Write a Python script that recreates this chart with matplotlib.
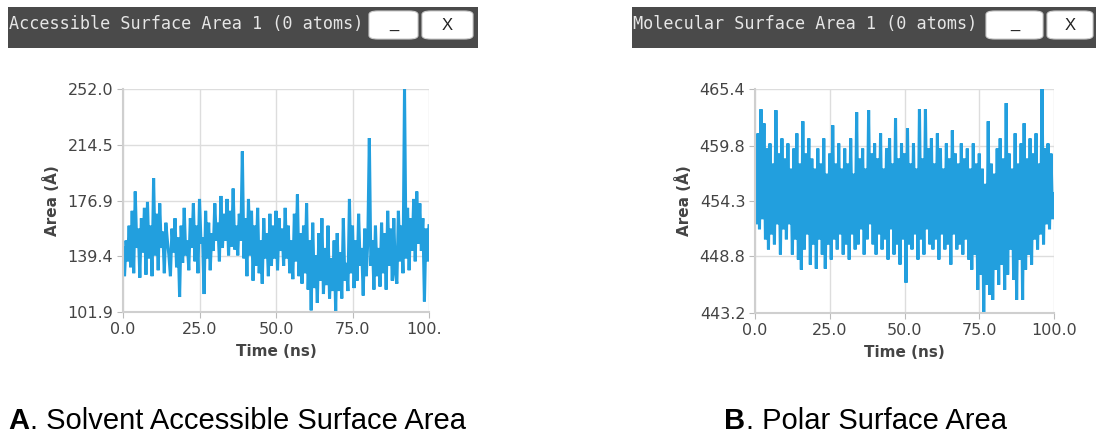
import matplotlib.pyplot as plt
import numpy as np
from matplotlib.patches import Rectangle, FancyBboxPatch

# solvent accessible surface area, one value every 0.5 ns
sasa = [145, 126, 150, 136, 160, 132, 170, 128, 183, 145, 158, 125, 165, 142, 172, 127, 176, 138, 160, 126,
        192, 140, 168, 130, 175, 145, 156, 128, 162, 150, 140, 126, 158, 142, 165, 132, 152, 112, 160, 135,
        172, 140, 150, 130, 165, 145, 175, 136, 160, 128, 178, 148, 152, 114, 170, 138, 162, 130, 155, 143,
        175, 150, 162, 136, 180, 145, 168, 150, 178, 140, 170, 146, 185, 144, 160, 140, 168, 150, 210, 138,
        165, 126, 178, 140, 170, 123, 160, 133, 172, 128, 150, 121, 165, 138, 155, 126, 168, 133, 160, 138,
        170, 130, 165, 143, 158, 133, 172, 138, 160, 128, 150, 124, 168, 136, 181, 126, 155, 121, 160, 128,
        175, 117, 150, 103, 162, 118, 140, 108, 155, 123, 165, 114, 145, 120, 160, 111, 138, 116, 150, 102,
        155, 116, 142, 111, 165, 123, 135, 116, 178, 128, 160, 118, 150, 123, 168, 133, 145, 113, 158, 126,
        150, 219, 133, 150, 117, 160, 126, 145, 119, 162, 128, 155, 117, 170, 133, 158, 123, 165, 128, 121,
        170, 136, 160, 128, 252, 138, 172, 130, 165, 143, 178, 136, 183, 148, 175, 143, 165, 109, 158, 136, 160]

# polar surface area
psa = [454.5, 452.0, 461.0, 451.5, 463.4, 452.5, 462.0, 450.5, 459.5, 449.5, 460.0, 451.0, 458.0, 450.0, 463.3, 452.0, 459.0, 449.0, 460.5, 451.5,
       458.5, 450.5, 460.0, 452.0, 457.5, 449.0, 459.5, 450.5, 461.0, 448.5, 458.0, 447.5, 462.2, 449.5, 459.0, 451.0, 460.5, 448.0, 458.5, 450.0,
       457.5, 447.6, 459.5, 450.5, 458.0, 449.0, 460.5, 447.6, 457.0, 450.0, 459.0, 448.5, 461.8, 450.5, 458.0, 449.5, 460.0, 451.0, 457.5, 449.0,
       459.5, 450.0, 458.0, 448.5, 460.5, 451.0, 457.0, 449.5, 463.1, 450.0, 458.5, 451.5, 459.5, 449.0, 457.5, 450.5, 463.3, 452.0, 459.0, 450.0,
       460.0, 449.0, 458.5, 451.0, 461.0, 449.5, 457.5, 450.5, 459.5, 448.5, 460.5, 451.5, 458.0, 449.0, 462.5, 450.0, 458.5, 448.0, 460.0, 450.5,
       459.0, 446.2, 461.5, 450.0, 458.0, 449.5, 460.0, 451.0, 457.5, 448.5, 463.4, 450.5, 458.5, 449.0, 463.4, 451.5, 459.5, 450.0, 460.5, 449.5,
       458.0, 450.5, 461.0, 448.5, 459.5, 451.0, 457.5, 449.5, 460.0, 450.0, 458.5, 448.0, 461.3, 451.0, 459.0, 449.5, 458.0, 450.0, 460.0, 449.0,
       458.5, 450.5, 459.5, 448.5, 457.5, 447.5, 460.0, 449.0, 458.0, 445.5, 459.0, 447.0, 457.5, 443.1, 456.0, 446.0, 462.2, 445.0, 458.0, 444.5,
       457.0, 447.5, 459.5, 446.0, 460.5, 448.0, 458.5, 445.5, 464.0, 447.0, 459.0, 449.5, 457.5, 446.5, 461.0, 444.5, 458.0, 448.5, 460.0, 444.5,
       462.0, 447.5, 458.5, 449.0, 460.5, 448.0, 459.0, 450.5, 461.0, 449.5, 458.0, 451.0, 465.4, 450.0, 459.5, 452.0, 460.0, 451.5, 459.0, 452.5, 455.0]

time_step = 0.5
x_ticks = [0, 25, 50, 75, 100]
sasa_ticks = [101.9, 139.4, 176.9, 214.5, 252.0]
psa_ticks = [443.2, 448.8, 454.3, 459.8, 465.4]

W, H = 1096, 436
fig = plt.figure(figsize=(W / 100, H / 100), dpi=100)

line_col = '#229fde'
grid_col = '#dddddd'
txt_col = '#444444'


def px(x0, y0, x1, y1):
    return [x0 / W, 1 - y1 / H, (x1 - x0) / W, (y1 - y0) / H]


def panel(rect, values, ticks, clip_right=None):
    ax = fig.add_axes(rect)
    t = np.arange(len(values)) * time_step
    ax.plot(t, values, color=line_col, lw=2.2, solid_joinstyle='miter')
    ax.set_xlim(0, 100)
    ax.set_ylim(ticks[0], ticks[-1])
    ax.set_xticks(x_ticks)
    ax.set_xticklabels(['%.1f' % v for v in x_ticks])
    ax.set_yticks(ticks)
    ax.set_yticklabels(['%.1f' % v for v in ticks])
    ax.grid(True, color=grid_col, lw=1)
    ax.set_axisbelow(True)
    for s in ['top', 'right']:
        ax.spines[s].set_visible(False)
    for s in ['left', 'bottom']:
        ax.spines[s].set_color('#cfcfcf')
        ax.spines[s].set_linewidth(1.5)
    ax.tick_params(colors='#bbbbbb', labelcolor=txt_col, labelsize=11.5, length=4, pad=3)
    ax.set_xlabel('Time (ns)', fontsize=11, fontweight='bold', color=txt_col, labelpad=5)
    ax.set_ylabel('Area (Å)', fontsize=11, fontweight='bold', color=txt_col, labelpad=5)
    if clip_right is not None:
        clip = Rectangle((0, 0), clip_right / W, 1, transform=fig.transFigure, visible=False)
        fig.add_artist(clip)
        for lab in ax.get_xticklabels():
            lab.set_clip_path(clip)
    return ax


panel(px(123, 89, 429, 312), sasa, sasa_ticks, clip_right=440)
panel(px(755, 89, 1054, 313), psa, psa_ticks)


def title_bar(x0, x1, text, b1, b2):
    fig.add_artist(Rectangle((x0 / W, 1 - 48 / H), (x1 - x0) / W, 41 / H,
                             transform=fig.transFigure, color='#4a4a4a', lw=0))
    fig.text((x0 + 1) / W, 1 - 24 / H, text, family='DejaVu Sans Mono', fontsize=12.1,
             color='#e6e6e6', va='center', ha='left')
    for (bx0, bx1), lab in [(b1, '_'), (b2, 'X')]:
        fig.add_artist(FancyBboxPatch((bx0 / W, 1 - 39 / H), (bx1 - bx0) / W, 28 / H,
                                      boxstyle='round,pad=0,rounding_size=0.008',
                                      transform=fig.transFigure, fc='white', ec='#cccccc', lw=0.8))
        fig.text((bx0 + bx1) / 2 / W, 1 - 25 / H, lab, fontsize=12, color='#222222',
                 ha='center', va='center', family='Liberation Sans')


title_bar(8, 478, 'Accessible Surface Area 1 (0 atoms)', (369, 418), (422, 473))
title_bar(632, 1096, 'Molecular Surface Area 1 (0 atoms)', (986, 1043), (1047, 1093))

renderer = fig.canvas.get_renderer()
cap_size = 21
for x0, letter, rest in [(8, 'A', '. Solvent Accessible Surface Area'), (724, 'B', '. Polar Surface Area')]:
    head = fig.text(x0 / W, 1 - 421 / H, letter, fontsize=cap_size, fontweight='bold',
                    family='Liberation Sans', va='center')
    bb = head.get_window_extent(renderer)
    fig.text(bb.x1 / W + 0.001, 1 - 421 / H, rest, fontsize=cap_size,
             family='Liberation Sans', va='center')

fig.savefig('out.png', dpi=100)
